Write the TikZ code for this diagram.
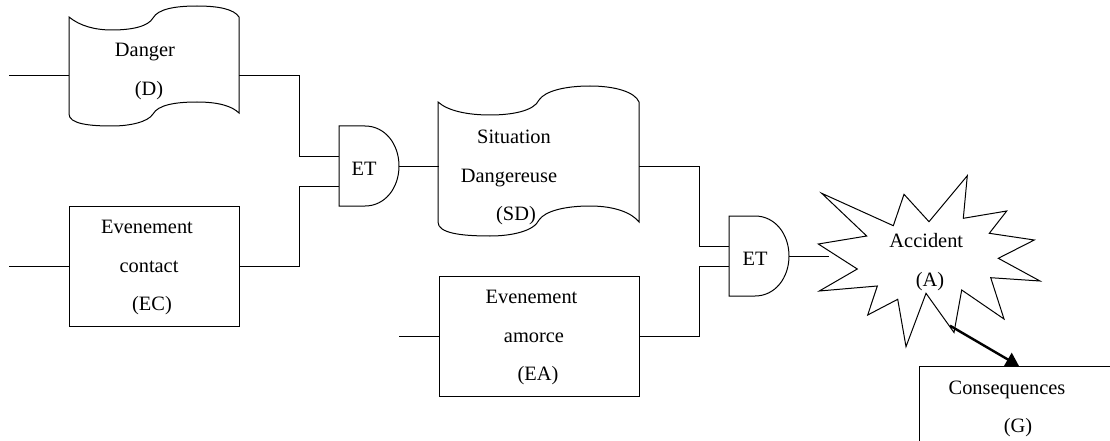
\documentclass[tikz,border=0pt]{standalone}
\usepackage{fontspec}
\setmainfont{Liberation Serif}
\usetikzlibrary{arrows.meta}
\tikzset{
  x=1pt,y=-1pt,
  every path/.style={line width=1pt,line join=miter},
  lbl/.style={inner sep=0pt,anchor=base,font=\fontsize{20.4}{20.4}\selectfont,text=black},
  boxnode/.style={draw,rectangle,line width=1pt,inner sep=0pt},
  wire/.style={draw,line width=1pt},
  thickarrow/.style={draw,line width=2.4pt,-{Triangle[length=13pt,width=15pt]}},
}
\newcommand{\gateshape}[2]{%
  \draw (#1,#2) -- (#1+26,#2) .. controls (#1+46,#2) and (#1+60,#2+18) .. (#1+60,#2+40)
   .. controls (#1+60,#2+62) and (#1+46,#2+80) .. (#1+26,#2+80) -- (#1,#2+80) -- cycle;}
\begin{document}
\begin{tikzpicture}
\useasboundingbox (0,0) rectangle (1110,441);
% Danger
\draw (69,17) .. controls (80,26) and (95,30) .. (112,30)
  .. controls (130,30) and (148,27) .. (153,18)
  .. controls (158,9) and (175,6) .. (197,6)
  .. controls (218,6) and (234,9) .. (239,17)
  -- (239,113)
  .. controls (232,106) and (218,102) .. (197,102)
  .. controls (175,102) and (158,105) .. (153,114)
  .. controls (148,122) and (130,126) .. (112,126)
  .. controls (90,126) and (69,124) .. (69,114) -- cycle;
% Situation dangereuse
\draw (438,102) .. controls (448,111) and (468,115) .. (490,115)
  .. controls (512,115) and (534,111) .. (539,100)
  .. controls (545,91) and (565,86) .. (590,86)
  .. controls (615,86) and (635,92) .. (639,102)
  -- (639,222)
  .. controls (632,213) and (615,206) .. (590,206)
  .. controls (565,206) and (545,211) .. (539,220)
  .. controls (534,231) and (512,236) .. (490,236)
  .. controls (460,236) and (438,233) .. (438,222) -- cycle;
% Star
\draw (821.7,193.3) -- (893.3,225.7) -- (904,194.3) -- (929,221.7) -- (967.3,175.7)
  -- (963.3,218.3) -- (1006.7,211) -- (989.3,233.3) -- (1034.3,240) -- (998.3,258.3)
  -- (1040,281) -- (990.7,277.7) -- (1004,319) -- (961.7,290) -- (954,332.5)
  -- (926,293.3) -- (906,346.7) -- (897.7,299.3) -- (867.7,315) -- (877.3,286)
  -- (819.3,291) -- (857.3,269) -- (818.3,244) -- (866.7,236) -- cycle;
% Gates
\gateshape{339}{126}
\gateshape{729}{216}
% Boxes
\node[boxnode,minimum width=170pt,minimum height=120pt,anchor=north west] (ec) at (69,206) {};
\node[boxnode,minimum width=200pt,minimum height=120pt,anchor=north west] (ea) at (439,276) {};
\draw (919,441) -- (919,366) -- (1110,366);
% Connection points
\coordinate (dIn) at (9,76); \coordinate (dL) at (69,76); \coordinate (dR) at (239,76);
\coordinate (g1a) at (339,156); \coordinate (g1b) at (339,186); \coordinate (g1o) at (399,166);
\coordinate (ecIn) at (9,266);
\coordinate (sdL) at (439,166); \coordinate (sdR) at (639,166);
\coordinate (g2a) at (729,246); \coordinate (g2b) at (729,266); \coordinate (g2o) at (789,256);
\coordinate (eaIn) at (399,336);
\coordinate (acL) at (829,256); \coordinate (acB) at (950,325.7); \coordinate (gT) at (1019,366);
% Connectors
\draw[wire] (dIn) -- (dL);
\draw[wire] (dR) -- (299,76) -- (299,156) -- (g1a);
\draw[wire] (ecIn) -- (ec.west |- ecIn);
\draw[wire] (ec.east |- ecIn) -- (299,266) -- (299,186) -- (g1b);
\draw[wire] (g1o) -- (sdL);
\draw[wire] (sdR) -- (699,166) -- (699,246) -- (g2a);
\draw[wire] (eaIn) -- (ea.west |- eaIn);
\draw[wire] (ea.east |- eaIn) -- (699,336) -- (699,266) -- (g2b);
\draw[wire] (g2o) -- (acL);
\draw[thickarrow] (acB) -- (gT);
% Labels
\node[lbl] (t1) at (145,57) {Danger};
\node[lbl] (t2) at (149,95.5) {(D)};
\node[lbl] (t3) at (147,233.5) {Evenement};
\node[lbl] (t4) at (149,272) {contact};
\node[lbl] (t5) at (152,310.5) {(EC)};
\node[lbl] (t6) at (364,175) {ET};
\node[lbl] (t7) at (514,143.5) {Situation};
\node[lbl] (t8) at (509,182) {Dangereuse};
\node[lbl] (t9) at (516,220.5) {(SD)};
\node[lbl] (t10) at (531.5,303.5) {Evenement};
\node[lbl] (t11) at (534,342) {amorce};
\node[lbl] (t12) at (538,380.5) {(EA)};
\node[lbl] (t13) at (755,265) {ET};
\node[lbl] (t14) at (926.3,247.5) {Accident};
\node[lbl] (t15) at (930,286) {(A)};
\node[lbl] (t16) at (1007,394) {Consequences};
\node[lbl] (t17) at (1018,432.5) {(G)};
\end{tikzpicture}
\end{document}
